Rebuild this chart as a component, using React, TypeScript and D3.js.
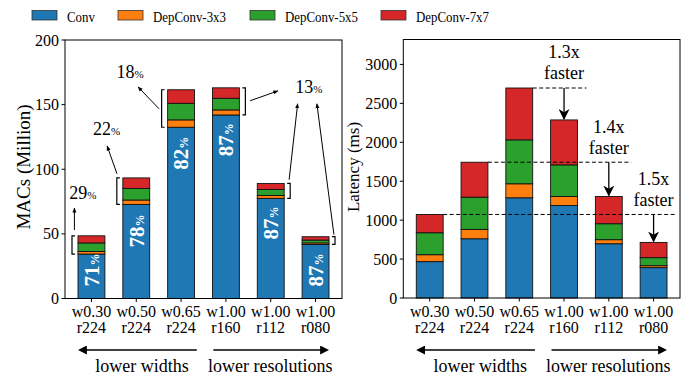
import React from "react";
import * as d3 from "d3";

// ---- data ----
const widthLabels = ["w0.30", "w0.50", "w0.65", "w1.00", "w1.00", "w1.00"];
const resLabels = ["r224", "r224", "r224", "r160", "r112", "r080"];
const seriesNames = ["Conv", "DepConv-3x3", "DepConv-5x5", "DepConv-7x7"];
const seriesColors = ["#1f77b4", "#ff7f0e", "#2ca02c", "#d62728"];

// MACs (Million)
const macsConv = [34.4, 72.8, 132.5, 142.0, 77.5, 41.8];
const macsDw3 = [2.0, 3.4, 5.7, 3.9, 2.2, 1.2];
const macsDw5 = [6.6, 8.9, 12.8, 9.0, 4.6, 2.2];
const macsDw7 = [5.5, 8.2, 10.5, 8.1, 4.7, 2.6];

// Latency (ms)
const latConv = [467, 761, 1287, 1188, 697, 390];
const latDw3 = [89, 120, 180, 116, 52, 25];
const latDw5 = [282, 414, 564, 406, 205, 103];
const latDw7 = [235, 449, 666, 577, 350, 196];

const convShare = ["71", "78", "82", "87", "87", "87"];
const depShare = ["29", "22", "18", "13"];
const speedups = ["1.3x", "1.4x", "1.5x"];

const macsTicks = [0, 50, 100, 150, 200];
const latTicks = [0, 500, 1000, 1500, 2000, 2500, 3000];

const FONT = "'Liberation Serif', 'Times New Roman', Times, serif";
const keys = ["conv", "dw3", "dw5", "dw7"];

function toRows(a: number[], b: number[], c: number[], d: number[]) {
  return a.map((v, i) => ({ conv: v, dw3: b[i], dw5: c[i], dw7: d[i] }));
}

const stacker = d3.stack<any>().keys(keys);

type Box = { left: number; right: number; top: number; bottom: number };

function Panel({ box, yMax, ticks, rows, yLabel, labelX, labelSize, children }: any) {
  const x = d3.scaleLinear().domain([-0.59, 5.59]).range([box.left, box.right]);
  const y = d3.scaleLinear().domain([0, yMax]).range([box.bottom, box.top]);
  const stacked = stacker(rows);
  const bw = x(0.3) - x(0);
  const arrowY = 350;
  return (
    <g>
      {stacked.map((s: any, si: number) =>
        s.map((d: any, i: number) => (
          <rect
            key={si + "-" + i}
            x={x(i) - bw}
            width={bw * 2}
            y={y(d[1])}
            height={y(d[0]) - y(d[1])}
            fill={seriesColors[si]}
            stroke="#111"
            strokeWidth={0.9}
          />
        ))
      )}
      <rect x={box.left} y={box.top} width={box.right - box.left} height={box.bottom - box.top}
        fill="none" stroke="#000" strokeWidth={1} />
      {ticks.map((t: number) => (
        <g key={t}>
          <line x1={box.left - 3.5} x2={box.left} y1={y(t)} y2={y(t)} stroke="#000" />
          <text x={box.left - 6} y={y(t)} dy="0.35em" textAnchor="end" fontSize={16}>{t}</text>
        </g>
      ))}
      {widthLabels.map((w, i) => (
        <g key={i}>
          <line x1={x(i)} x2={x(i)} y1={box.bottom} y2={box.bottom + 3.5} stroke="#000" />
          <text x={x(i)} y={316.5} textAnchor="middle" fontSize={16}>{w}</text>
          <text x={x(i)} y={333} textAnchor="middle" fontSize={16}>{resLabels[i]}</text>
        </g>
      ))}
      <text transform={`translate(${labelX},167) rotate(-90)`} textAnchor="middle"
        fontSize={labelSize}>{yLabel}</text>
      <line x1={x(2.35)} x2={x(-0.3) + 8} y1={arrowY} y2={arrowY} stroke="#000" strokeWidth={1.3} markerEnd="url(#headMid)" />
      <line x1={x(2.72)} x2={x(5.3) - 8} y1={arrowY} y2={arrowY} stroke="#000" strokeWidth={1.3} markerEnd="url(#headMid)" />
      <text x={x(1.13)} y={371.5} textAnchor="middle" fontSize={18}>lower widths</text>
      <text x={x(3.99)} y={371.5} textAnchor="middle" fontSize={18}>lower resolutions</text>
      {children && children(x, y, stacked)}
    </g>
  );
}

const macsRows = toRows(macsConv, macsDw3, macsDw5, macsDw7);
const latRows = toRows(latConv, latDw3, latDw5, latDw7);

// label anchors (data units) for annotations
const shareLabelBottom = [9.3, 39.4, 99.6, 110, 45.6, 9.3];
const depLabelPos = [[-0.19, 81.8], [0.34, 131], [0.86, 175.5], [4.85, 164]];
const depArrows = [
  [-0.38, 53, -0.38, 70],
  [0.57, 96.5, 0.35, 118],
  [1.51, 146.7, 1.04, 163.7],
  [3.54, 153, 4.16, 160.6],
  [4.41, 91.9, 4.6, 150.6],
  [5.41, 49.4, 5.03, 150.6],
];

export default function App() {
  const leftBox: Box = { left: 65, right: 342, top: 40, bottom: 298.5 };
  const rightBox: Box = { left: 403.3, right: 680, top: 39.5, bottom: 298 };
  return (
    <svg width={699} height={381} style={{ position: "absolute", left: 0, top: 0, fontFamily: FONT }}>
      <defs>
        <marker id="headMid" viewBox="0 0 10 10" refX="1" refY="5" markerWidth="9" markerHeight="9"
          markerUnits="userSpaceOnUse" orient="auto">
          <path d="M0,0 L10,5 L0,10 Z" fill="#000" />
        </marker>
        <marker id="headSmall" viewBox="0 0 10 10" refX="9" refY="5" markerWidth="5" markerHeight="5"
          markerUnits="userSpaceOnUse" orient="auto">
          <path d="M0,1 L10,5 L0,9 Z" fill="#000" />
        </marker>
        <marker id="headBig" viewBox="0 0 10 10" refX="9" refY="5" markerWidth="11" markerHeight="11"
          markerUnits="userSpaceOnUse" orient="auto">
          <path d="M0,0 L10,5 L0,10 L3,5 Z" fill="#000" />
        </marker>
      </defs>
      <rect width={699} height={381} fill="#fff" />

      {/* legend */}
      {seriesNames.map((n, i) => {
        const lx = [32, 118, 250, 381][i];
        return (
          <g key={n}>
            <rect x={lx} y={10.5} width={25} height={9.5} fill={seriesColors[i]} stroke="#333" strokeWidth={0.8} />
            <text transform={`translate(${lx + 35},21.5) scale(0.86,1)`} fontSize={15}>{n}</text>
          </g>
        );
      })}

      <Panel box={leftBox} yMax={200} ticks={macsTicks} rows={macsRows} yLabel="MACs (Million)" labelX={29.5} labelSize={19}>
        {(x: any, y: any, st: any) => {
          const bw = x(0.3) - x(0);
          return (
            <g>
              {convShare.map((p, i) => (
                <text key={"s" + i} transform={`translate(${x(i)},${y(shareLabelBottom[i])}) rotate(-90)`}
                  dy="0.35em" fill="#fff" fontWeight="bold" fontSize={21}>
                  {p}<tspan fontSize={12}>%</tspan>
                </text>
              ))}
              {macsConv.map((c, i) => {
                const total = st[3][i][1];
                const y0 = y(total), y1 = y(c);
                const left = i < 3;
                const bx = left ? x(i) - bw - 6 : x(i) + bw + 6;
                const t = left ? 3 : -3;
                return (
                  <path key={"b" + i} d={`M${bx + t},${y0} H${bx} V${y1} H${bx + t}`} fill="none" stroke="#000" strokeWidth={1.2} />
                );
              })}
              {depArrows.map((a, i) => (
                <line key={"a" + i} x1={x(a[0])} y1={y(a[1])} x2={x(a[2])} y2={y(a[3])} stroke="#000" strokeWidth={1}
                  markerEnd="url(#headSmall)" />
              ))}
              {depShare.map((p, i) => (
                <text key={"d" + i} x={x(depLabelPos[i][0])} y={y(depLabelPos[i][1])} dy="0.35em" textAnchor="middle" fontSize={18}>
                  {p}<tspan fontSize={11}>%</tspan>
                </text>
              ))}
            </g>
          );
        }}
      </Panel>

      <Panel box={rightBox} yMax={3320} ticks={latTicks} rows={latRows} yLabel="Latency (ms)" labelX={359} labelSize={17}>
        {(x: any, y: any, st: any) => {
          const bw = x(0.3) - x(0);
          return (
            <g fontSize={18}>
              {speedups.map((s, k) => {
                const src = 2 - k;
                const dst = 3 + k;
                const ly = y(st[3][src][1]);
                const ty = y(st[3][dst][1]);
                return (
                  <g key={s}>
                    <line x1={x(src) + bw} x2={x(dst + 0.5)} y1={ly} y2={ly} stroke="#000" strokeWidth={1} strokeDasharray="4,2.5" />
                    <line x1={x(dst)} x2={x(dst)} y1={ly} y2={ty - 1} stroke="#000" strokeWidth={1.3} markerEnd="url(#headBig)" />
                    <text x={x(dst)} y={ly - 36} dy="0.35em" textAnchor="middle">{s}</text>
                    <text x={x(dst)} y={ly - 15} dy="0.35em" textAnchor="middle">faster</text>
                  </g>
                );
              })}
            </g>
          );
        }}
      </Panel>
    </svg>
  );
}
